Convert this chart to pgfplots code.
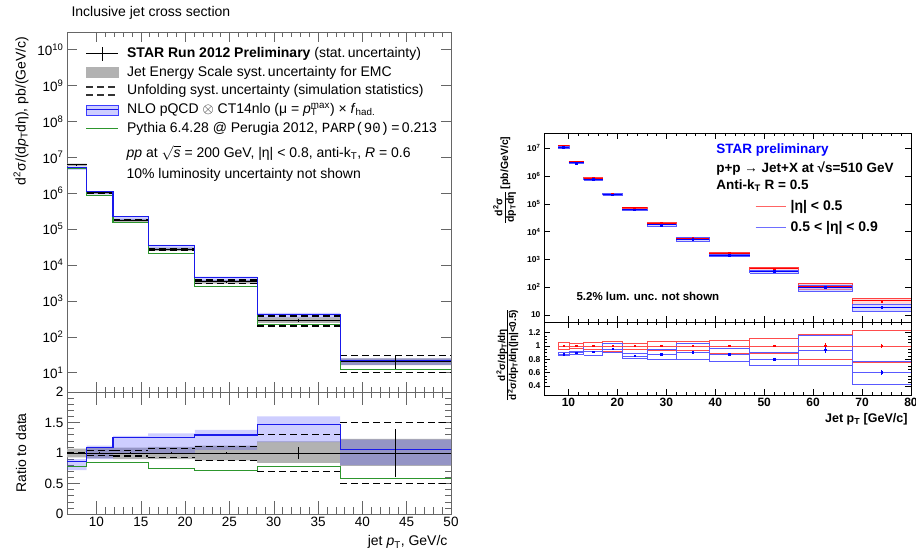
\documentclass[border=0pt]{standalone}
\usepackage{fontspec}
\setmainfont{Liberation Sans}
\setmonofont{Liberation Mono}
\usepackage{pgfplots}
\pgfplotsset{compat=1.18}
\usepgfplotslibrary{fillbetween}

\definecolor{nloblue}{RGB}{25,25,235}
\definecolor{nloband}{RGB}{60,60,255}
\definecolor{pygreen}{RGB}{45,150,45}
\definecolor{jesgray}{RGB}{178,178,178}
\definecolor{legred}{RGB}{255,100,100}
\definecolor{legblue}{RGB}{110,110,255}

% left: STAR 200 GeV, bin edges (last row repeats the last bin)
\pgfplotstableread{
x      d       jlo     jhi     ulo     uhi     nlo     nlolo   nlohi   py
6.674  6.2e6   5.77e6  6.63e6  6.14e6  6.26e6  5.33e6  4.46e6  5.58e6  4.84e6
8.899  1.03e6  9.37e5  1.11e6  9.89e5  1.07e6  1.12e6  9.27e5  1.15e6  8.65e5
11.865 1.78e5  1.60e5  1.94e5  1.69e5  1.85e5  2.225e5 1.78e5  2.28e5  1.51e5
15.820 2.75e4  2.475e4 3.03e4  2.53e4  2.94e4  3.44e4  2.75e4  3.63e4  2.06e4
21.094 3.45e3  3.04e3  3.86e3  3.04e3  3.83e3  4.47e3  3.62e3  4.76e3  2.48e3
28.125 290     244     345     200     380     423     342     464     226
37.5   20.5    16.2    25.2    10.25   30.75   21.5    16.4    25.0    12.0
50     20.5    16.2    25.2    10.25   30.75   21.5    16.4    25.0    12.0
}\lefttop

\pgfplotstableread{
x      d   jlo   jhi   ulo   uhi   nlo    nlolo  nlohi  py
6.674  1   0.93  1.07  0.99  1.01  0.86   0.72   0.90   0.78
8.899  1   0.91  1.08  0.96  1.04  1.09   0.90   1.12   0.84
11.865 1   0.90  1.09  0.95  1.04  1.25   1.00   1.28   0.85
15.820 1   0.90  1.10  0.92  1.07  1.25   1.00   1.32   0.75
21.094 1   0.88  1.12  0.88  1.11  1.295  1.05   1.38   0.72
28.125 1   0.84  1.19  0.69  1.31  1.46   1.18   1.60   0.78
37.5   1   0.79  1.23  0.50  1.50  1.05   0.80   1.22   0.585
50     1   0.79  1.23  0.50  1.50  1.05   0.80   1.22   0.585
}\leftratio

\pgfplotstableread{
x     y       e      ry  re
7.78  6.2e6   3.0e4  1   0.005
10.38 1.03e6  1.0e4  1   0.01
13.84 1.78e5  1.8e3  1   0.01
18.46 2.75e4  4.0e2  1   0.015
24.61 3.45e3  7.0e1  1   0.02
32.81 290     29     1   0.10
43.75 20.5    8.0    1   0.39
}\leftpts

% right: STAR 510 GeV, |eta|<0.5 (r) and 0.5<|eta|<0.9 (b)
\pgfplotstableread{
x     r        b        rr  br
7.9   1.24e7   1.085e7  1   0.875
10.1  3.3e6    2.97e6   1   0.90
13.1  8.3e5    7.6e5    1   0.915
17.0  2.25e5   2.15e5   1   0.955
21.0  7.2e4    6.12e4   1   0.85
26.1  2.0e4    1.75e4   1   0.875
32.0  5.8e3    5.25e3   1   0.905
38.8  1.65e3   1.44e3   1   0.875
47.0  460      368      1   0.80
57.0  105      99       1   0.94
68.0  32       19.2     1   0.60
80.0  32       19.2     1   0.60
}\righttop

\pgfplotstableread{
x    r       re     b        be     rr  rre   br    bre
9.0  1.24e7  1.2e5  1.085e7  1.1e5  1   0.01  0.875 0.01
11.6 3.3e6   3e4    2.97e6   3e4    1   0.01  0.90  0.01
15.0 8.3e5   8e3    7.6e5    8e3    1   0.01  0.915 0.01
19.0 2.25e5  2e3    2.15e5   2e3    1   0.01  0.955 0.015
23.5 7.2e4   7e2    6.12e4   7e2    1   0.01  0.85  0.01
29.0 2.0e4   2e2    1.75e4   2e2    1   0.01  0.875 0.01
35.4 5.8e3   60     5.25e3   60     1   0.01  0.905 0.01
42.9 1.65e3  20     1.44e3   20     1   0.012 0.875 0.012
52.0 460     7      368      7      1   0.015 0.80  0.015
62.5 105     4      99       5      1   0.04  0.94  0.05
74.0 32      1      19.2     0.8    1   0.03  0.60  0.04
}\rightpts

\pgfplotsset{
  leftax/.style={scale only axis, width=384pt, xmin=6.674, xmax=50,
    axis line style={black!60}, every tick/.style={black!60},
    xtick={10,15,...,50}, minor x tick num=4,
    tick label style={font=\fontsize{13.5}{14}\selectfont}},
  rightax/.style={scale only axis, width=367pt, xmin=5, xmax=80,
    axis line style={black}, every tick/.style={black},
    major tick length=6pt, minor tick length=3pt,
    xtick={10,20,...,80}, minor x tick num=4,
    tick label style={font=\bfseries\fontsize{8.5}{9}\selectfont}},
  staterr/.style={draw=none, mark=none,
    error bars/y dir=both, error bars/y explicit, error bars/error mark=none,
    error bars/error bar style={draw=black, solid, line width=0.8pt}},
}

\begin{document}
\begin{tikzpicture}

% ---------------- left, top ----------------
\begin{axis}[leftax, at={(67pt,159pt)}, anchor=south west, height=360pt,
  ymode=log, log basis y=10, ymin=2.9, ymax=3.1e10,
  major tick length=10pt, minor tick length=5pt,
  ytick={1e1,1e2,1e3,1e4,1e5,1e6,1e7,1e8,1e9,1e10},
  xticklabels={},
  yticklabel={\pgfmathtruncatemacro\ee{round(\tick)}10\textsuperscript{\ee}},
  legend cell align=left,
  legend style={at={(0.04,0.969)}, anchor=north west, draw=none, fill=none,
    font=\fontsize{14}{16}\selectfont, row sep=2.2pt,
    nodes={inner sep=1.5pt, text height=10.5pt, text depth=3pt},
    /tikz/every odd column/.append style={column sep=7pt}},
]
\addplot[draw=none, const plot, name path=jl, forget plot] table[x=x,y=jlo]{\lefttop};
\addplot[draw=none, const plot, name path=jh, forget plot] table[x=x,y=jhi]{\lefttop};
\addplot[fill=jesgray, draw=none, forget plot] fill between[of=jl and jh];
\addplot[draw=none, const plot, name path=nl, forget plot] table[x=x,y=nlolo]{\lefttop};
\addplot[draw=none, const plot, name path=nh, forget plot] table[x=x,y=nlohi]{\lefttop};
\addplot[fill=nloband, fill opacity=0.25, draw=none, forget plot] fill between[of=nl and nh];
\addplot[black, line width=1.1pt, dash pattern=on 7pt off 4pt, jump mark left, forget plot] table[x=x,y=ulo]{\lefttop};
\addplot[black, line width=1.1pt, dash pattern=on 7pt off 4pt, jump mark left, forget plot] table[x=x,y=uhi]{\lefttop};
\addplot[black, line width=0.8pt, jump mark left, forget plot] table[x=x,y=d]{\lefttop};
\addplot[pygreen, line width=1.1pt, const plot, forget plot] table[x=x,y=py]{\lefttop};
\addplot[nloblue, line width=1.1pt, const plot, forget plot] table[x=x,y=nlo]{\lefttop};
\addplot[forget plot, staterr] table[x=x,y=y,y error=e]{\leftpts};

\addlegendimage{legend image code/.code={
  \draw[black,line width=0.8pt](0pt,0pt)--(32pt,0pt);
  \draw[black,line width=0.8pt](16pt,-7pt)--(16pt,7pt);}}
\addlegendentry{\textbf{STAR Run 2012 Preliminary} (stat.\,uncertainty)}
\addlegendimage{legend image code/.code={
  \fill[jesgray](0pt,-5pt) rectangle (32pt,5pt);}}
\addlegendentry{Jet Energy Scale syst.\,uncertainty for EMC}
\addlegendimage{legend image code/.code={
  \draw[black!80,line width=1.1pt,dash pattern=on 7pt off 4pt](0pt,4pt)--(32pt,4pt);
  \draw[black!80,line width=1.1pt,dash pattern=on 7pt off 4pt](0pt,-4pt)--(32pt,-4pt);}}
\addlegendentry{Unfolding syst.\,uncertainty (simulation statistics)}
\addlegendimage{legend image code/.code={
  \fill[nloband,fill opacity=0.25](0pt,-5pt) rectangle (32pt,5pt);
  \draw[nloblue,line width=1.1pt](0pt,0pt)--(32pt,0pt);}}
\addlegendentry{NLO pQCD $\otimes$ CT14nlo (μ = \textit{p}\rlap{\textsubscript{T}}\textsuperscript{max}) × \textit{f}\textsubscript{had.}}
\addlegendimage{legend image code/.code={
  \draw[pygreen,line width=1.1pt](0pt,0pt)--(32pt,0pt);}}
\addlegendentry{Pythia 6.4.28 @ Perugia 2012, \texttt{PARP(90)}\,=\,0.213}

\node[anchor=west, font=\fontsize{14}{16}\selectfont] at (rel axis cs:0.146,0.665)
  {\textit{pp} at $\sqrt{\mbox{\textit{s}}}$ = 200 GeV, |η| < 0.8, anti-k\textsubscript{T}, \textit{R} = 0.6};
\node[anchor=west, font=\fontsize{14}{16}\selectfont] at (rel axis cs:0.146,0.603)
  {10\% luminosity uncertainty not shown};
\end{axis}

% ---------------- left, ratio ----------------
\begin{axis}[leftax, at={(67pt,37pt)}, anchor=south west, height=122pt,
  ymin=0, ymax=2, ytick={0,0.5,1,1.5,2}, minor y tick num=4,
  major tick length=13pt, minor tick length=6.5pt,
  xticklabel={\pgfmathprintnumber[assume math mode=true]{\tick}},
  yticklabel={\pgfmathprintnumber[assume math mode=true]{\tick}},
]
\addplot[draw=none, const plot, name path=rjl] table[x=x,y=jlo]{\leftratio};
\addplot[draw=none, const plot, name path=rjh] table[x=x,y=jhi]{\leftratio};
\addplot[fill=jesgray, draw=none] fill between[of=rjl and rjh];
\addplot[draw=none, const plot, name path=rnl] table[x=x,y=nlolo]{\leftratio};
\addplot[draw=none, const plot, name path=rnh] table[x=x,y=nlohi]{\leftratio};
\addplot[fill=nloband, fill opacity=0.25, draw=none] fill between[of=rnl and rnh];
\addplot[black, line width=1.1pt, dash pattern=on 7pt off 4pt, jump mark left] table[x=x,y=ulo]{\leftratio};
\addplot[black, line width=1.1pt, dash pattern=on 7pt off 4pt, jump mark left] table[x=x,y=uhi]{\leftratio};
\addplot[black, line width=0.8pt, jump mark left] table[x=x,y=d]{\leftratio};
\addplot[pygreen, line width=1.1pt, const plot] table[x=x,y=py]{\leftratio};
\addplot[nloblue, line width=1.1pt, const plot] table[x=x,y=nlo]{\leftratio};
\addplot[staterr] table[x=x,y=ry,y error=re]{\leftpts};
\end{axis}

\node[anchor=base west, font=\fontsize{14}{16}\selectfont] at (68pt,534pt) {Inclusive jet cross section};
\node[rotate=90, anchor=east, font=\fontsize{14}{16}\selectfont] at (21pt,518pt)
  {d\textsuperscript{2}σ/(d\textit{p}\textsubscript{T}dη), pb/(GeV/c)};
\node[rotate=90, font=\fontsize{14}{16}\selectfont] at (21pt,98pt) {Ratio to data};
\node[anchor=base east, font=\fontsize{14}{16}\selectfont] at (451pt,5pt) {jet \textit{p}\textsubscript{T}, GeV/c};

% ---------------- right, top ----------------
\begin{axis}[rightax, at={(544pt,229pt)}, anchor=south west, height=189pt,
  ymode=log, log basis y=10, ymin=5.6, ymax=3.55e7,
  ytick={1e1,1e2,1e3,1e4,1e5,1e6,1e7},
  xticklabels={},
  yticklabel={\pgfmathtruncatemacro\ee{round(\tick)}\ifnum\ee=1 10\else 10\textsuperscript{\ee}\fi},
  unbounded coords=jump,
  legend cell align=left,
  legend style={at={(0.567,0.665)}, anchor=north west, draw=none, fill=none,
    font=\bfseries\fontsize{14}{16}\selectfont, row sep=4pt,
    nodes={inner sep=1.5pt, text height=10.5pt, text depth=3pt},
    /tikz/every odd column/.append style={column sep=3pt}},
]
\addplot[draw=red!75, fill=red!30, fill opacity=0.5, line width=0.5pt, forget plot] coordinates {
(7.9,1.18e7)(7.9,1.30e7)(10.1,1.30e7)(10.1,1.18e7)(7.9,1.18e7)(7.9,nan)
(10.1,3.17e6)(10.1,3.43e6)(13.1,3.43e6)(13.1,3.17e6)(10.1,3.17e6)(10.1,nan)
(13.1,7.89e5)(13.1,8.80e5)(17.0,8.80e5)(17.0,7.89e5)(13.1,7.89e5)(13.1,nan)
(17.0,2.08e5)(17.0,2.42e5)(21.0,2.42e5)(21.0,2.08e5)(17.0,2.08e5)(17.0,nan)
(21.0,6.84e4)(21.0,7.56e4)(26.1,7.56e4)(26.1,6.84e4)(21.0,6.84e4)(21.0,nan)
(26.1,1.88e4)(26.1,2.13e4)(32.0,2.13e4)(32.0,1.88e4)(26.1,1.88e4)(26.1,nan)
(32.0,5.39e3)(32.0,6.18e3)(38.8,6.18e3)(38.8,5.39e3)(32.0,5.39e3)(32.0,nan)
(38.8,1.47e3)(38.8,1.80e3)(47.0,1.80e3)(47.0,1.47e3)(38.8,1.47e3)(38.8,nan)
(47.0,400)(47.0,530)(57.0,530)(57.0,400)(47.0,400)(47.0,nan)
(57.0,87)(57.0,135)(68.0,135)(68.0,87)(57.0,87)(57.0,nan)
(68.0,24)(68.0,39.7)(80.0,39.7)(80.0,24)(68.0,24)
};
\addplot[draw=blue!65, fill=blue!30, fill opacity=0.5, line width=0.5pt, forget plot] coordinates {
(7.9,1.03e7)(7.9,1.14e7)(10.1,1.14e7)(10.1,1.03e7)(7.9,1.03e7)(7.9,nan)
(10.1,2.87e6)(10.1,3.04e6)(13.1,3.04e6)(13.1,2.87e6)(10.1,2.87e6)(10.1,nan)
(13.1,7.14e5)(13.1,8.31e5)(17.0,8.31e5)(17.0,7.14e5)(13.1,7.14e5)(13.1,nan)
(17.0,2.03e5)(17.0,2.34e5)(21.0,2.34e5)(21.0,2.03e5)(17.0,2.03e5)(17.0,nan)
(21.0,5.9e4)(21.0,6.41e4)(26.1,6.41e4)(26.1,5.9e4)(21.0,5.9e4)(21.0,nan)
(26.1,1.6e4)(26.1,1.9e4)(32.0,1.9e4)(32.0,1.6e4)(26.1,1.6e4)(26.1,nan)
(32.0,4.64e3)(32.0,6.03e3)(38.8,6.03e3)(38.8,4.64e3)(32.0,4.64e3)(32.0,nan)
(38.8,1.27e3)(38.8,1.6e3)(47.0,1.6e3)(47.0,1.27e3)(38.8,1.27e3)(38.8,nan)
(47.0,322)(47.0,419)(57.0,419)(57.0,322)(47.0,322)(47.0,nan)
(57.0,73.5)(57.0,122)(68.0,122)(68.0,73.5)(57.0,73.5)(57.0,nan)
(68.0,13.4)(68.0,24.6)(80.0,24.6)(80.0,13.4)(68.0,13.4)
};
\addplot[red, line width=1pt, jump mark left, forget plot] table[x=x,y=r]{\righttop};
\addplot[blue, line width=1pt, jump mark left, forget plot] table[x=x,y=b]{\righttop};
\addplot[red, only marks, mark=square*, mark size=0.9pt, forget plot,
  error bars/.cd, y dir=both, y explicit, error mark=none] table[x=x,y=r,y error=re]{\rightpts};
\addplot[blue, only marks, mark=square*, mark size=0.9pt, forget plot,
  error bars/.cd, y dir=both, y explicit, error mark=none] table[x=x,y=b,y error=be]{\rightpts};

\addlegendimage{legend image code/.code={\draw[legred,line width=0.9pt](0pt,0pt)--(30pt,0pt);}}
\addlegendentry{|η| < 0.5}
\addlegendimage{legend image code/.code={\draw[legblue,line width=0.9pt](0pt,0pt)--(30pt,0pt);}}
\addlegendentry{0.5 < |η| < 0.9}

\node[anchor=west, font=\bfseries\fontsize{13.5}{15}\selectfont, text=blue] at (rel axis cs:0.46,0.91) {STAR preliminary};
\node[anchor=west, font=\bfseries\fontsize{13.5}{15}\selectfont] at (rel axis cs:0.46,0.81) {p+p → Jet+X at √s=510 GeV};
\node[anchor=west, font=\bfseries\fontsize{13.5}{15}\selectfont] at (rel axis cs:0.46,0.72) {Anti-k\textsubscript{T} R = 0.5};
\node[anchor=west, font=\bfseries\fontsize{11.5}{13}\selectfont] at (rel axis cs:0.079,0.138) {5.2\% lum. unc. not shown};
\end{axis}

% ---------------- right, ratio ----------------
\begin{axis}[rightax, at={(544pt,156pt)}, anchor=south west, height=73pt,
  ymin=0.26, ymax=1.36, ytick={0.4,0.6,0.8,1,1.2}, minor y tick num=3,
  unbounded coords=jump,
  xticklabel style={font=\bfseries\fontsize{12}{13}\selectfont},
  xticklabel={\pgfmathprintnumber[assume math mode=true]{\tick}},
  yticklabel={\pgfmathprintnumber[assume math mode=true]{\tick}},
]
\addplot[draw=red!70, line width=0.6pt] coordinates {
(7.9,0.95)(7.9,1.05)(10.1,1.05)(10.1,0.95)(7.9,0.95)(7.9,nan)
(10.1,0.96)(10.1,1.04)(13.1,1.04)(13.1,0.96)(10.1,0.96)(10.1,nan)
(13.1,0.95)(13.1,1.06)(17.0,1.06)(17.0,0.95)(13.1,0.95)(13.1,nan)
(17.0,0.925)(17.0,1.075)(21.0,1.075)(21.0,0.925)(17.0,0.925)(17.0,nan)
(21.0,0.95)(21.0,1.04)(26.1,1.04)(26.1,0.95)(21.0,0.95)(21.0,nan)
(26.1,0.94)(26.1,1.065)(32.0,1.065)(32.0,0.94)(26.1,0.94)(26.1,nan)
(32.0,0.93)(32.0,1.065)(38.8,1.065)(38.8,0.93)(32.0,0.93)(32.0,nan)
(38.8,0.89)(38.8,1.09)(47.0,1.09)(47.0,0.89)(38.8,0.89)(38.8,nan)
(47.0,0.89)(47.0,1.11)(57.0,1.11)(57.0,0.89)(47.0,0.89)(47.0,nan)
(57.0,0.80)(57.0,1.175)(68.0,1.175)(68.0,0.80)(57.0,0.80)(57.0,nan)
(68.0,0.75)(68.0,1.24)(80.0,1.24)(80.0,0.75)(68.0,0.75)
};
\addplot[draw=blue!65, line width=0.6pt] coordinates {
(7.9,0.86)(7.9,0.90)(10.1,0.90)(10.1,0.86)(7.9,0.86)(7.9,nan)
(10.1,0.87)(10.1,0.92)(13.1,0.92)(13.1,0.87)(10.1,0.87)(10.1,nan)
(13.1,0.86)(13.1,1.00)(17.0,1.00)(17.0,0.86)(13.1,0.86)(13.1,nan)
(17.0,0.90)(17.0,1.04)(21.0,1.04)(21.0,0.90)(17.0,0.90)(17.0,nan)
(21.0,0.82)(21.0,0.89)(26.1,0.89)(26.1,0.82)(21.0,0.82)(21.0,nan)
(26.1,0.80)(26.1,0.95)(32.0,0.95)(32.0,0.80)(26.1,0.80)(26.1,nan)
(32.0,0.80)(32.0,1.04)(38.8,1.04)(38.8,0.80)(32.0,0.80)(32.0,nan)
(38.8,0.77)(38.8,0.97)(47.0,0.97)(47.0,0.77)(38.8,0.77)(38.8,nan)
(47.0,0.70)(47.0,0.91)(57.0,0.91)(57.0,0.70)(47.0,0.70)(47.0,nan)
(57.0,0.70)(57.0,1.16)(68.0,1.16)(68.0,0.70)(57.0,0.70)(57.0,nan)
(68.0,0.42)(68.0,0.77)(80.0,0.77)(80.0,0.42)(68.0,0.42)
};
\addplot[red!70, line width=0.6pt, jump mark left] table[x=x,y=rr]{\righttop};
\addplot[blue!65, line width=0.6pt, jump mark left] table[x=x,y=br]{\righttop};
\addplot[red, only marks, mark=square*, mark size=0.8pt,
  error bars/.cd, y dir=both, y explicit, error mark=none] table[x=x,y=rr,y error=rre]{\rightpts};
\addplot[blue, only marks, mark=square*, mark size=0.8pt,
  error bars/.cd, y dir=both, y explicit, error mark=none] table[x=x,y=br,y error=bre]{\rightpts};
\end{axis}

\node[rotate=90, anchor=south east, font=\bfseries\fontsize{10.5}{12}\selectfont] at (521pt,418pt)
  {\begin{tabular}{@{}c@{}}d\textsuperscript{2}σ\\[-1pt]\hline dp\textsubscript{T}dη\end{tabular} [pb/GeV/c]};
\node[rotate=90, font=\bfseries\fontsize{10}{11}\selectfont] at (508pt,196pt)
  {\begin{tabular}{@{}c@{}}d\textsuperscript{2}σ/dp\textsubscript{T}/dη\\[-1pt]\hline d\textsuperscript{2}σ/dp\textsubscript{T}/dη(|η|<0.5)\end{tabular}};
\node[anchor=base east, font=\bfseries\fontsize{12.5}{14}\selectfont] at (911pt,128pt) {Jet p\textsubscript{T} [GeV/c]};

\pgfresetboundingbox
\path[use as bounding box] (0,0) rectangle (916pt,551pt);
\end{tikzpicture}
\end{document}
